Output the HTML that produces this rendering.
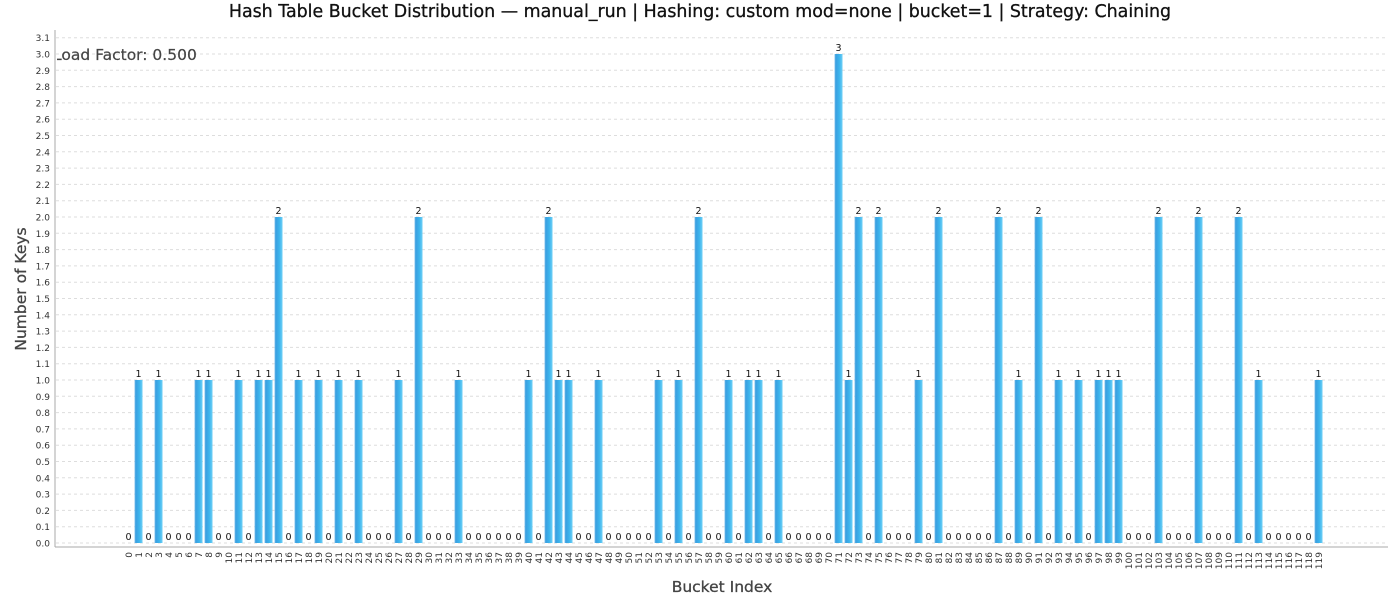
<!DOCTYPE html>
<html><head><meta charset="utf-8"><style>
body{margin:0;background:#fff;}
svg{display:block;font-family:"DejaVu Sans","Liberation Sans",sans-serif;}
</style></head><body>
<svg id="c" width="1400" height="600" xmlns="http://www.w3.org/2000/svg">
<defs>
<linearGradient id="g" x1="0" x2="1" y1="0" y2="0">
<stop offset="0" stop-color="#9fd0f0"/><stop offset="0.15" stop-color="#3a9ee0"/><stop offset="0.6" stop-color="#3cb4ec"/><stop offset="1" stop-color="#6fd0f6"/>
</linearGradient>
<clipPath id="pc"><rect x="57" y="30" width="1335" height="520"/></clipPath>
</defs>
<text x="700" y="17" text-anchor="middle" font-size="17.4" fill="#111" stroke="#111" stroke-width="0.3">Hash Table Bucket Distribution — manual_run | Hashing: custom mod=none | bucket=1 | Strategy: Chaining</text>
<g id="grid"></g>
<g id="bars"></g>
<line x1="55" y1="30" x2="55" y2="547" stroke="#aaa"/>
<line x1="55" y1="547" x2="1388" y2="547" stroke="#aaa"/>
<g clip-path="url(#pc)"><text x="53" y="60" font-size="15.5" fill="#444" stroke="#444" stroke-width="0.2">Load Factor: 0.500</text></g>
<text transform="translate(26,289) rotate(-90)" text-anchor="middle" font-size="15.5" fill="#444" stroke="#444" stroke-width="0.3">Number of Keys</text>
<text x="722" y="592" text-anchor="middle" font-size="15.5" fill="#444" stroke="#444" stroke-width="0.3">Bucket Index</text>
</svg>
<script>
const values=[0,1,0,1,0,0,0,1,1,0,0,1,0,1,1,2,0,1,0,1,0,1,0,1,0,0,0,1,0,2,0,0,0,1,0,0,0,0,0,0,1,0,2,1,1,0,0,1,0,0,0,0,0,1,0,1,0,2,0,0,1,0,1,1,0,1,0,0,0,0,0,3,1,2,0,2,0,0,0,1,0,2,0,0,0,0,0,2,0,1,0,2,0,1,0,1,0,1,1,1,0,0,0,2,0,0,0,2,0,0,0,2,0,1,0,0,0,0,0,1];
const yTicks=[0,0.1,0.2,0.3,0.4,0.5,0.6,0.7,0.8,0.9,1,1.1,1.2,1.3,1.4,1.5,1.6,1.7,1.8,1.9,2,2.1,2.2,2.3,2.4,2.5,2.6,2.7,2.8,2.9,3,3.1];
const NS="http://www.w3.org/2000/svg";
const x=i=>128.5+i*10.0;
const y=v=>543-v*163;
function mk(t,a,p){const e=document.createElementNS(NS,t);for(const k in a)e.setAttribute(k,a[k]);p.appendChild(e);return e;}
const grid=document.getElementById('grid'),bars=document.getElementById('bars');
yTicks.forEach(t=>{
 const l=mk('line',{x1:56,x2:1388,y1:y(t),y2:y(t),stroke:'#ddd','stroke-dasharray':'3,3'},grid);
 
 
 const tx=mk('text',{x:50,y:y(t)+3.5,'text-anchor':'end','font-size':9,fill:'#333'},grid);
 tx.textContent=t.toFixed(1);
 
 
});
values.forEach((v,i)=>{
 if(v>0){
  const r=mk('rect',{x:x(i)-4,y:y(v),width:8,height:543-y(v),fill:'url(#g)'},bars);
  
  
 }
 const lb=mk('text',{x:x(i),y:y(v)-3,'text-anchor':'middle','font-size':9.5,fill:'#111'},bars);
 lb.textContent=v;
 
 
 const tk=mk('text',{transform:`translate(${x(i)+3.3},552) rotate(-90)`,'text-anchor':'end','font-size':9,fill:'#333'},bars);
 tk.textContent=i;
 
 
});
</script>
</body></html>
